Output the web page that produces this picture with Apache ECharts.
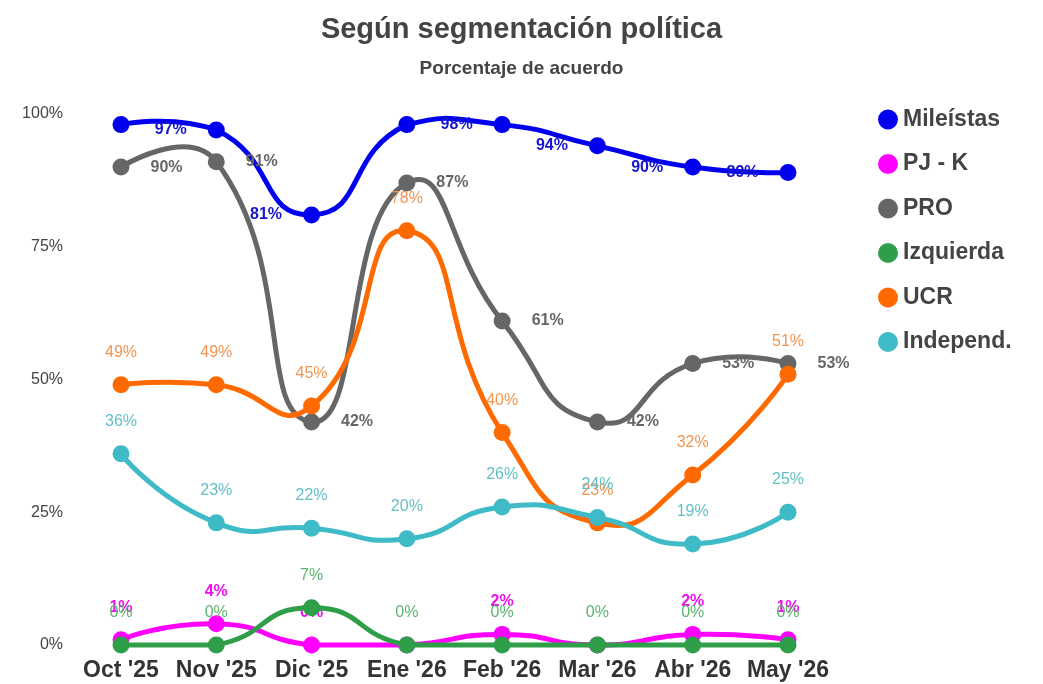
<!DOCTYPE html>
<html>
<head>
<meta charset="utf-8">
<script src="https://cdn.jsdelivr.net/npm/echarts@6/dist/echarts.min.js"></script>
<style>
html,body{margin:0;padding:0;background:#fff;}
#chart{width:1043px;height:684px;}
</style>
</head>
<body>
<div id="chart"></div>
<script>
const months = ["Oct '25", "Nov '25", "Dic '25", "Ene '26", "Feb '26", "Mar '26", "Abr '26", "May '26"];
const mileistas = [98, 97, 81, 98, 98, 94, 90, 89];
const pjk = [1, 4, 0, 0, 2, 0, 2, 1];
const pro = [90, 91, 42, 87, 61, 42, 53, 53];
const izquierda = [0, 0, 7, 0, 0, 0, 0, 0];
const ucr = [49, 49, 45, 78, 40, 23, 32, 51];
const independ = [36, 23, 22, 20, 26, 24, 19, 25];
const yTicks = [0, 25, 50, 75, 100];

const FONT = 'Liberation Sans, Arial, sans-serif';
const SMOOTH = 0.56;

function withHidden(values, hiddenIdx) {
  return values.map((v, i) => hiddenIdx.includes(i) ? { value: v, label: { show: false } } : v);
}

// Bezier smoothing with control points along the prev->next direction
function smoothPath(pts, yTop, yBottom) {
  const n = pts.length;
  const clampY = (y) => Math.max(yTop, Math.min(yBottom, y));
  const dist = (a, b) => Math.hypot(a[0] - b[0], a[1] - b[1]);
  let d = 'M' + pts[0][0] + ',' + pts[0][1];
  let cp0 = pts[0].slice();
  for (let i = 1; i < n; i++) {
    const p = pts[i];
    let cp1, nextCp0;
    if (i === n - 1) {
      cp1 = p.slice();
      nextCp0 = p.slice();
    } else {
      const prev = pts[i - 1], next = pts[i + 1];
      const vx = next[0] - prev[0], vy = next[1] - prev[1];
      const lp = dist(p, prev), ln = dist(p, next);
      const r = (lp + ln) ? ln / (lp + ln) : 0.5;
      cp1 = [p[0] - vx * SMOOTH * (1 - r), p[1] - vy * SMOOTH * (1 - r)];
      nextCp0 = [p[0] + vx * SMOOTH * r, p[1] + vy * SMOOTH * r];
    }
    cp0[1] = clampY(cp0[1]);
    cp1[1] = clampY(cp1[1]);
    d += ' C' + cp0[0] + ',' + cp0[1] + ' ' + cp1[0] + ',' + cp1[1] + ' ' + p[0] + ',' + p[1];
    cp0 = nextCp0;
  }
  return d;
}

function curveSeries(name, values, color) {
  return {
    name: name,
    type: 'custom',
    data: values.map((v, i) => [i, v]),
    encode: { x: 0, y: 1 },
    itemStyle: { color: color },
    silent: true,
    renderItem: function (params, api) {
      if (params.dataIndex !== 0) return null;
      const pts = values.map((v, i) => api.coord([i, v]));
      const yTop = api.coord([0, yTicks[yTicks.length - 1]])[1];
      const yBottom = api.coord([0, yTicks[0]])[1];
      return {
        type: 'path',
        shape: { pathData: smoothPath(pts, yTop, yBottom) },
        style: { stroke: color, lineWidth: 5, fill: null, lineCap: 'round', lineJoin: 'round' }
      };
    }
  };
}

function pointSeries(name, values, color, label) {
  return {
    name: name,
    type: 'line',
    data: values,
    symbol: 'circle',
    symbolSize: 17,
    lineStyle: { width: 0, opacity: 0 },
    itemStyle: { color: color },
    label: Object.assign({
      show: true,
      formatter: '{c}%',
      fontFamily: FONT,
      fontSize: 16
    }, label)
  };
}

const defs = [
  ['Mileístas', mileistas, '#0000ee', withHidden(mileistas, [0, 3]),
    { position: 'left', distance: 21, fontWeight: 'bold', color: '#1515d0' }],
  ['PJ - K', pjk, '#ff00ff', withHidden(pjk, [3, 5]),
    { position: 'top', distance: 16, fontWeight: 'bold', color: '#ee10ee' }],
  ['PRO', pro, '#666666', pro,
    { position: 'right', distance: 21, fontWeight: 'bold', color: '#666' }],
  ['Izquierda', izquierda, '#2e9e48', izquierda,
    { position: 'top', distance: 16, color: '#5cb46e' }],
  ['UCR', ucr, '#ff6a00', ucr,
    { position: 'top', distance: 16, color: '#f29550' }],
  ['Independ.', independ, '#3ebbc6', independ,
    { position: 'top', distance: 16, color: '#62bfc8' }]
];

const series = [];
defs.forEach(([name, values, color, dataForPoints, label]) => {
  series.push(pointSeries(name, dataForPoints, color, label));
  series.push(curveSeries(name, values, color));
});
// markers sit above their own curve
series.forEach((s, i) => { s.z = 2 + Math.floor(i / 2) * 0.01 + (s.type === 'line' ? 0.005 : 0); });

const chart = echarts.init(document.getElementById('chart'));
chart.setOption({
  backgroundColor: '#ffffff',
  animation: false,
  title: [
    { text: 'Según segmentación política', left: 'center', top: 10,
      textStyle: { fontFamily: FONT, fontSize: 29, fontWeight: 'bold', color: '#444' } },
    { text: 'Porcentaje de acuerdo', left: 'center', top: 54,
      textStyle: { fontFamily: FONT, fontSize: 19, fontWeight: 'bold', color: '#444' } }
  ],
  legend: {
    orient: 'vertical',
    left: 873,
    top: 103,
    icon: 'circle',
    itemWidth: 20,
    itemHeight: 20,
    itemGap: 21.5,
    textStyle: { fontFamily: FONT, fontSize: 23, fontWeight: 'bold', color: '#444' },
    data: ['Mileístas', 'PJ - K', 'PRO', 'Izquierda', 'UCR', 'Independ.']
  },
  grid: { left: 121, right: 255, top: 114, bottom: 39, containLabel: false },
  xAxis: {
    type: 'category',
    data: months,
    boundaryGap: false,
    axisLine: { show: false },
    axisTick: { show: false },
    axisLabel: { interval: 0, fontFamily: FONT, fontSize: 23, fontWeight: 'bold', color: '#333', margin: 14 }
  },
  yAxis: {
    type: 'value',
    min: yTicks[0],
    max: yTicks[yTicks.length - 1],
    interval: 25,
    splitLine: { show: false },
    axisLine: { show: false },
    axisTick: { show: false },
    axisLabel: { fontFamily: FONT, fontSize: 16, color: '#444', margin: 58, formatter: '{value}%' }
  },
  series: series
});
</script>
</body>
</html>
